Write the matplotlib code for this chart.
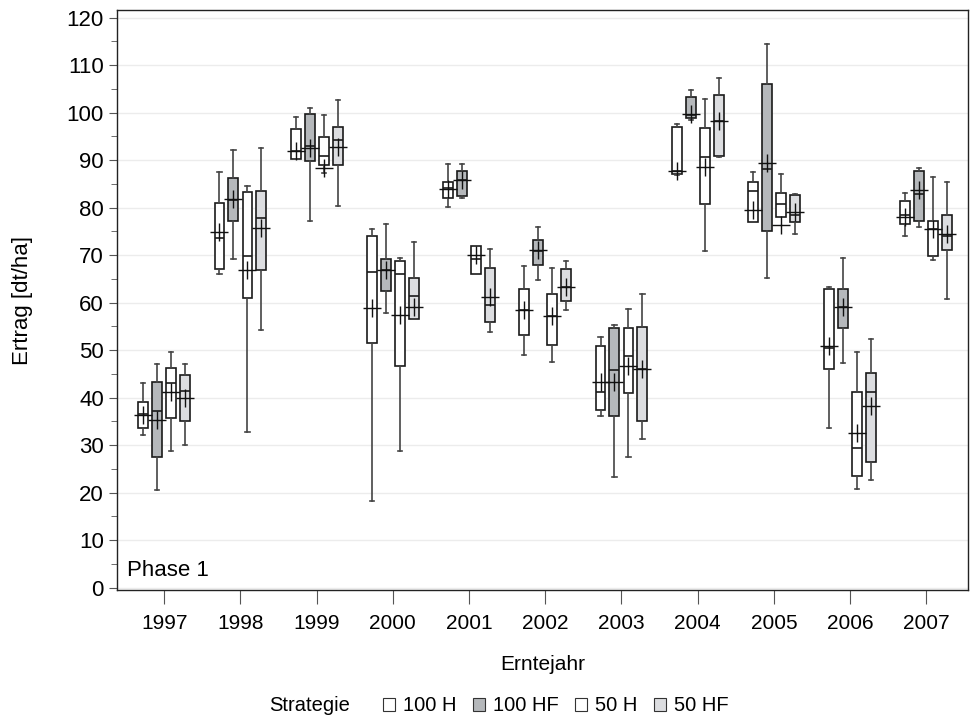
import matplotlib.pyplot as plt
from matplotlib.patches import Patch
from matplotlib.ticker import MultipleLocator

years = [1997, 1998, 1999, 2000, 2001, 2002, 2003, 2004, 2005, 2006, 2007]
strategies = ['100 H', '100 HF', '50 H', '50 HF']
colors = ['#ffffff', '#b5b8bb', '#ffffff', '#dcdde0']
offsets = [-0.275, -0.092, 0.092, 0.275]

# Ertrag [dt/ha] per year: whisker ends, quartiles, median and mean
lo_100h = [32.1, 66.1, 90.2, 18.2, 80.1, 48.9, 36.1, 86.8, 77.0, 33.6, 74.1]
q1_100h = [33.7, 67.1, 90.2, 51.5, 82.1, 53.3, 37.5, 87.1, 77.0, 46.0, 76.5]
med_100h = [36.5, 73.7, 91.9, 66.5, 84.2, 58.5, 41.1, 87.8, 83.5, 50.4, 78.4]
q3_100h = [39.1, 81.0, 96.5, 74.0, 85.4, 62.8, 50.9, 97.0, 85.5, 62.8, 81.4]
hi_100h = [43.1, 87.5, 99.1, 75.6, 89.3, 67.7, 52.7, 97.7, 87.5, 63.3, 83.1]
mean_100h = [36.3, 74.8, 92.0, 58.9, 83.9, 58.5, 43.3, 87.8, 79.6, 50.8, 78.1]

lo_100hf = [20.5, 69.1, 77.3, 57.8, 82.0, 64.8, 23.2, 98.4, 65.2, 47.4, 75.9]
q1_100hf = [27.5, 77.3, 89.9, 62.5, 82.4, 68.0, 36.1, 98.8, 75.1, 54.6, 77.2]
med_100hf = [37.2, 81.7, 92.9, 66.8, 85.8, 70.8, 45.8, 99.5, 88.2, 59.0, 82.8]
q3_100hf = [43.4, 86.3, 99.8, 69.1, 87.7, 73.3, 54.6, 103.3, 106.0, 62.8, 87.7]
hi_100hf = [47.1, 92.2, 101.0, 76.6, 89.1, 75.9, 55.3, 104.7, 114.4, 69.4, 88.3]
mean_100hf = [35.4, 81.8, 92.6, 66.9, 85.9, 71.0, 43.3, 99.7, 89.4, 59.0, 83.7]

lo_50h = [28.8, 32.8, 87.3, 28.8, 66.1, 47.6, 27.5, 70.8, 78.1, 20.7, 68.9]
q1_50h = [35.8, 60.9, 88.9, 46.6, 66.1, 51.2, 41.0, 80.7, 78.1, 23.5, 69.9]
med_50h = [43.1, 69.8, 90.9, 66.1, 69.1, 57.2, 48.7, 90.6, 80.7, 29.5, 75.5]
q3_50h = [46.3, 83.3, 94.8, 68.8, 72.0, 61.8, 54.6, 96.8, 83.0, 41.1, 77.2]
hi_50h = [49.6, 84.6, 99.5, 69.4, 72.0, 67.4, 58.6, 102.8, 87.2, 49.7, 86.4]
mean_50h = [41.1, 66.8, 88.3, 57.5, 70.0, 57.2, 46.7, 88.6, 76.3, 32.5, 75.5]

lo_50hf = [30.1, 54.2, 80.3, 56.6, 53.9, 58.5, 31.2, 90.7, 74.4, 22.7, 60.7]
q1_50hf = [35.1, 66.8, 88.9, 56.6, 55.9, 60.4, 35.1, 90.8, 77.0, 26.5, 71.2]
med_50hf = [41.4, 77.9, 94.2, 61.5, 59.5, 63.4, 46.1, 98.2, 78.4, 41.2, 74.1]
q3_50hf = [44.7, 83.6, 97.1, 65.1, 67.4, 67.1, 54.9, 103.7, 82.6, 45.1, 78.4]
hi_50hf = [47.1, 92.6, 102.7, 72.7, 71.4, 68.8, 61.8, 107.3, 82.9, 52.4, 85.4]
mean_50hf = [40.0, 75.7, 92.8, 59.1, 61.2, 63.4, 46.1, 98.2, 79.0, 38.2, 74.5]

series = [
    (lo_100h, q1_100h, med_100h, q3_100h, hi_100h, mean_100h),
    (lo_100hf, q1_100hf, med_100hf, q3_100hf, hi_100hf, mean_100hf),
    (lo_50h, q1_50h, med_50h, q3_50h, hi_50h, mean_50h),
    (lo_50hf, q1_50hf, med_50hf, q3_50hf, hi_50hf, mean_50hf),
]

plt.rcParams['font.family'] = ['Liberation Sans', 'DejaVu Sans']

fig = plt.figure(figsize=(9.75, 7.24), dpi=100)
ax = fig.add_axes([0.12, 0.185, 0.873, 0.801])

for (lo, q1, med, q3, hi, mean), color, off in zip(series, colors, offsets):
    stats = []
    for i in range(len(years)):
        stats.append({'whislo': lo[i], 'q1': q1[i], 'med': med[i],
                      'q3': q3[i], 'whishi': hi[i], 'mean': mean[i]})
    ax.bxp(stats, positions=[y + off for y in years], widths=0.13,
           capwidths=0.055, showmeans=True, showfliers=False,
           patch_artist=True, manage_ticks=False,
           boxprops=dict(facecolor=color, edgecolor='#1a1a1a', linewidth=1.2),
           medianprops=dict(color='#1a1a1a', linewidth=1.2),
           whiskerprops=dict(color='#444444', linewidth=1.2),
           capprops=dict(color='#444444', linewidth=1.2),
           meanprops=dict(marker='+', markersize=13, markeredgecolor='#111111',
                          markeredgewidth=1.0),
           zorder=3)

ax.set_xlim(1996.38, 2007.55)
ax.set_ylim(-0.5, 121.6)
ax.set_xticks(years)
ax.set_xticklabels([str(y) for y in years], fontsize=15)
ax.yaxis.set_major_locator(MultipleLocator(10))
ax.yaxis.set_minor_locator(MultipleLocator(5))
ax.tick_params(axis='y', which='major', labelsize=16, length=6, color='#555555')
ax.tick_params(axis='y', which='minor', length=4, color='#555555')
ax.tick_params(axis='x', length=10, color='#555555', pad=7)
ax.grid(axis='y', which='major', color='#ececec', linewidth=1.0, zorder=0)
ax.set_axisbelow(True)
for sp in ax.spines.values():
    sp.set_color('#222222')
    sp.set_linewidth(1.0)

ax.set_xlabel('Erntejahr', fontsize=15, labelpad=16)
ax.set_ylabel('Ertrag [dt/ha]', fontsize=16, labelpad=24)
ax.text(0.012, 0.025, 'Phase 1', transform=ax.transAxes, fontsize=16)

handles = [Patch(facecolor=c, edgecolor='#333333', linewidth=0.8) for c in colors]
fig.text(0.318, 0.025, 'Strategie', fontsize=14.5, ha='center', va='center')
fig.legend(handles, strategies, loc='center left', bbox_to_anchor=(0.393, 0.025), ncol=4,
           frameon=False, fontsize=14.5, handlelength=0.6, handleheight=0.6,
           handletextpad=0.4, columnspacing=0.8, borderaxespad=0, borderpad=0)

fig.savefig('out.png', dpi=100)
